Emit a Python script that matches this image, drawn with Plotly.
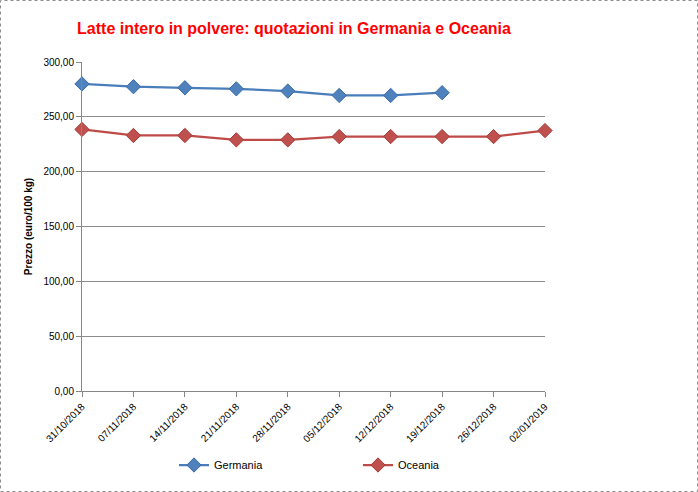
import plotly.graph_objects as go

dates = ["31/10/2018", "07/11/2018", "14/11/2018", "21/11/2018", "28/11/2018",
         "05/12/2018", "12/12/2018", "19/12/2018", "26/12/2018", "02/01/2019"]
germania = [280.0, 277.5, 276.5, 275.5, 273.5, 269.5, 269.5, 272.0]
oceania = [238.5, 233.0, 233.0, 229.0, 229.0, 232.0, 232.0, 232.0, 232.0, 237.5]
y_ticks = [0, 50, 100, 150, 200, 250, 300]

FONT = "Liberation Sans, Arial, sans-serif"

fig = go.Figure()
fig.add_trace(go.Scatter(
    x=dates[:len(germania)], y=germania, name="Germania", mode="lines+markers",
    line=dict(color="#4A7EBB", width=2.25),
    marker=dict(symbol="diamond", size=11, color="#4F81BD", line=dict(color="#3A6BA8", width=1)),
    cliponaxis=False, legend="legend",
))
fig.add_trace(go.Scatter(
    x=dates, y=oceania, name="Oceania", mode="lines+markers",
    line=dict(color="#BE4B48", width=2.25),
    marker=dict(symbol="diamond", size=11, color="#C0504D", line=dict(color="#A33B38", width=1)),
    cliponaxis=False, legend="legend2",
))

L, R, T, B = 82, 153, 62, 101
W, H = 698, 492
pw, ph = W - L - R, H - T - B

fig.add_shape(type="rect", xref="paper", yref="paper",
              x0=(0.5 - L) / pw, x1=(W - 0.5 - L) / pw,
              y0=-(B - 0.5) / ph, y1=(ph + T - 0.5) / ph,
              line=dict(color="#8C8C8C", width=1, dash="dot"))

leg_common = dict(orientation="h", xanchor="left", yanchor="middle",
                  y=-(465 - T - ph) / ph, bgcolor="rgba(0,0,0,0)",
                  font=dict(family=FONT, size=11))

fig.update_layout(
    width=W, height=H,
    margin=dict(l=L, r=R, t=T, b=B),
    paper_bgcolor="white", plot_bgcolor="white",
    separators=",.",
    font=dict(family=FONT, size=10, color="#000000"),
    title=dict(text="<b>Latte intero in polvere: quotazioni in Germania e Oceania</b>",
               font=dict(family=FONT, size=16, color="#FF0000"),
               x=294 / W, xanchor="center", y=1 - 28 / H, yanchor="middle"),
    showlegend=True,
    legend=dict(x=(174 - L) / pw, **leg_common),
    legend2=dict(x=(358 - L) / pw, **leg_common),
    xaxis=dict(type="category", range=[0, 9], showgrid=False,
               showline=True, linecolor="#868686", linewidth=1,
               ticks="outside", ticklen=5, tickcolor="#868686",
               tickangle=-45, tickfont=dict(size=10), tickmode="array",
               tickvals=dates, ticktext=dates),
    yaxis=dict(range=[0, 300], tickvals=y_ticks, tickformat=".2f",
               showgrid=True, gridcolor="#8C8C8C", gridwidth=1,
               showline=True, linecolor="#868686", linewidth=1,
               ticks="outside", ticklen=5, tickcolor="#868686",
               tickfont=dict(size=10), zeroline=False,
               title=dict(text="<b>Prezzo (euro/100 kg)</b>", font=dict(size=10), standoff=8)),
)

fig.write_html("out.html")
